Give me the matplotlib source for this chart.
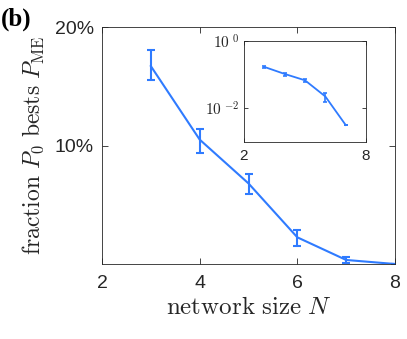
import numpy as np
import matplotlib.pyplot as plt

plt.rcParams['mathtext.fontset'] = 'cm'
plt.rcParams['font.family'] = ['Liberation Sans', 'DejaVu Sans']

# fraction (percent) of runs where P0 beats PME, with error bars
N = np.array([3, 4, 5, 6, 7, 8])
frac = np.array([16.7, 10.5, 6.8, 2.25, 0.34, 0.0])
err_lo = np.array([1.2, 1.1, 0.9, 0.7, 0.28, 0.0])
err_hi = np.array([1.4, 0.9, 0.8, 0.65, 0.23, 0.0])

# inset (log scale, fractions)
N_in = np.array([3, 4, 5, 6, 7])
frac_in = np.array([0.17, 0.105, 0.068, 0.0225, 0.0032])
err_in_lo = np.array([0.012, 0.011, 0.009, 0.007, 0.0])
err_in_hi = np.array([0.014, 0.009, 0.008, 0.0065, 0.0])

blue = '#2f7bff'
axc = '#262626'

fig = plt.figure(figsize=(4.07, 3.39), dpi=100)
ax = fig.add_axes([102/407, 1 - 264/339, 293/407, 237/339])

ax.errorbar(N, frac, yerr=[err_lo, err_hi], color=blue, lw=1.5,
            capsize=3, capthick=1.5, elinewidth=1.5)
ax.set_xlim(2, 8)
ax.set_ylim(0, 20)
ax.set_xticks([2, 4, 6, 8])
ax.set_yticks([10, 20])
ax.set_yticklabels(['10%', '20%'])
ax.tick_params(direction='in', top=True, right=True, labelsize=14,
               color=axc, labelcolor=axc, length=4, width=0.6)
ax.tick_params(axis='x', pad=8)
ax.tick_params(axis='y', pad=6)
for s in ax.spines.values():
    s.set_color(axc)
    s.set_linewidth(0.6)
ax.set_xlabel(r'$\mathrm{network\ size}\ N$', fontsize=18, color=axc, labelpad=2)
ax.set_ylabel(r'$\mathrm{fraction}\ P_0\ \mathrm{bests}\ P_{\mathrm{ME}}$',
              fontsize=17, color=axc, labelpad=6)

fig.text(1/407, 1 - 26/339, '(b)', fontsize=18, fontweight='bold',
         family='Liberation Serif')

# inset
axi = fig.add_axes([244/407, 1 - 142/339, 122/407, 101/339])
axi.errorbar(N_in, frac_in, yerr=[err_in_lo, err_in_hi], color=blue, lw=1.3,
             capsize=1.5, capthick=1.2, elinewidth=1.2)
axi.set_yscale('log')
axi.set_xlim(2, 8)
axi.set_ylim(1e-3, 1)
axi.set_xticks([2, 8])
axi.set_yticks([1, 1e-2])
axi.set_yticklabels([r'$\mathsf{10}^{\ \mathsf{0}}$', r'$\mathsf{10}^{\ \mathsf{-2}}$'])
axi.yaxis.set_minor_locator(plt.NullLocator())
axi.tick_params(direction='in', top=True, right=True, labelsize=11,
                color=axc, labelcolor=axc, length=3, width=0.6)
axi.tick_params(axis='x', pad=5)
for s in axi.spines.values():
    s.set_color(axc)
    s.set_linewidth(0.6)

fig.savefig('out.png', dpi=100)
